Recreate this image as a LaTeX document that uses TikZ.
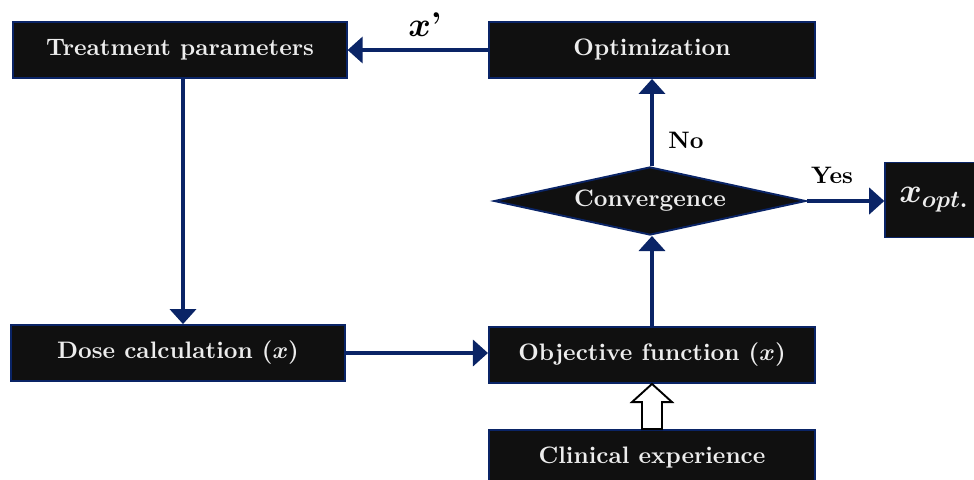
\documentclass[tikz,border=0pt]{standalone}
\usepackage{amsmath,bm}
\usetikzlibrary{
    arrows.meta,
    positioning,
    shapes.geometric,
    calc,
}
\definecolor{navyline}{RGB}{10,36,102}
\definecolor{boxfill}{RGB}{16,16,16}

\begin{document}
\begin{tikzpicture}[
        x=0.42pt, y=-0.42pt,
        every node/.style={font=\bfseries\boldmath},
        stepbox/.style={
            rectangle, draw=navyline, line width=0.8pt, fill=boxfill,
            text=white!93!black, minimum height=23.5pt, inner sep=2pt,
        },
        decision/.style={
            diamond, draw=navyline, line width=0.8pt, fill=boxfill,
            text=white!93!black, aspect=4.6, inner sep=0pt,
            minimum width=131pt, minimum height=28.6pt,
        },
        flow/.style={
            draw=navyline, line width=1.3pt,
            -{Triangle[length=6.3pt,width=11pt]},
        },
    ]
        \useasboundingbox (0,0) rectangle (974,479);

        % boxes
        \node[stepbox, minimum width=140pt] (treat) at (180,50) {Treatment parameters};
        \node[stepbox, minimum width=137pt] (optim) at (652,50) {Optimization};
        \node[stepbox, minimum width=140pt] (dose) at (178,353) {Dose calculation ($x$)};
        \node[stepbox, minimum width=137pt] (objfun) at (652,355) {Objective function ($x$)};
        \node[stepbox, minimum width=137pt] (clinic) at (652,458) {Clinical experience};
        \node[decision] (conv) at (650,201) {Convergence};
        \node[stepbox, minimum width=41pt, minimum height=31.5pt] (xopt) at (934,200) {\Large $x_{opt.}$};

        % connectors
        \draw[flow] (optim.west) -- (treat.east);
        \draw[flow] (treat.south -| 183,0) -- (dose.north -| 183,0);
        \draw[flow] (dose.east) -- (objfun.west |- dose.east);
        \draw[flow] (objfun.north) -- (objfun.north |- conv.south);
        \draw[flow] (optim.south |- conv.north) -- (optim.south);
        \draw[flow] (conv.east) -- (xopt.west |- conv.east);

        % labels
        \node (xprime) at (425,25) {\Large $x$'};
        \node (nolabel) at (686,140) {No};
        \node (yeslabel) at (832,175) {Yes};

        % hollow arrow
        \draw[black, fill=white, line width=0.8pt]
            ($(clinic.north)+(-10,0)$) -- ($(clinic.north)+(-10,-27)$)
            -- ($(clinic.north)+(-20,-27)$) -- (objfun.south)
            -- ($(clinic.north)+(20,-27)$) -- ($(clinic.north)+(10,-27)$)
            -- ($(clinic.north)+(10,0)$) -- cycle;
    \end{tikzpicture}
\end{document}
